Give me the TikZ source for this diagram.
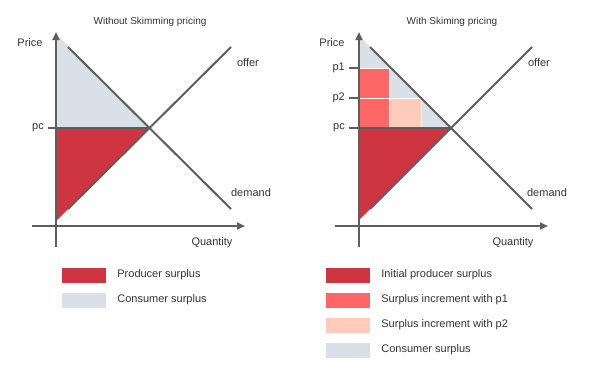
\documentclass[tikz,border=0pt]{standalone}
\usepackage{fontspec}
\setmainfont{Liberation Sans}
\usetikzlibrary{arrows.meta,positioning}
\definecolor{prodred}{HTML}{CF3441}
\definecolor{incone}{HTML}{FF6666}
\definecolor{inctwo}{HTML}{FFCCBC}
\definecolor{consgray}{HTML}{D9E0E7}
\definecolor{linegray}{HTML}{5E5E5E}
\definecolor{textgray}{HTML}{333333}

\begin{document}
\begin{tikzpicture}[x=1pt,y=-1pt,
    axis/.style={draw=linegray, line width=2pt, -{Triangle[length=8pt,width=7pt]}},
    curve/.style={draw=linegray, line width=2pt},
    tickmark/.style={draw=linegray, line width=2pt},
    lbl/.style={text=textgray, font=\fontsize{11}{13}\selectfont, inner sep=0pt},
    ttl/.style={text=textgray, font=\fontsize{10}{12}\selectfont, inner sep=0pt},
    key/.style={minimum width=44pt, minimum height=15pt, inner sep=0pt}]
\useasboundingbox (0,0) rectangle (600,380);

% Left chart: without skimming
\coordinate (a-eq) at (150,128);
\coordinate (a-pc) at (56,128);
\coordinate (a-pct) at (48,128);
\coordinate (a-dtop) at (56,34);
\coordinate (a-obot) at (56,221);
\fill[consgray] (a-dtop) -- (a-eq) -- (a-pc) -- cycle;
\fill[prodred] (a-pc) -- (a-eq) -- (a-obot) -- cycle;
\coordinate (a-ys) at (56,247);
\coordinate (a-ye) at (56,32);
\coordinate (a-xs) at (32,226);
\coordinate (a-xe) at (245,226);
\draw[axis] (a-ys) -- (a-ye);
\draw[axis] (a-xs) -- (a-xe);
\coordinate (a-d1) at (68,47);
\coordinate (a-d2) at (231,209);
\coordinate (a-o1) at (68,209);
\coordinate (a-o2) at (231,47);
\draw[curve] (a-d1) -- (a-d2);
\draw[curve] (a-o1) -- (a-o2);
\draw[curve] (a-pc) -- (a-eq);
\draw[tickmark] (a-pct) -- (a-pc);
\node[lbl, left=4pt of a-pct] (a-pclbl) {pc};
\node[lbl] (a-price) at (30,43) {Price};
\node[lbl] (a-qty) at (212,243) {Quantity};
\node[lbl] (a-offer) at (248,63) {offer};
\node[lbl] (a-demand) at (251,193) {demand};
\node[ttl] (a-title) at (150,22) {Without Skimming pricing};

% Right chart: with skimming
\coordinate (b-eq) at (451,128);
\coordinate (b-pc) at (359,128);
\coordinate (b-p2) at (359,98);
\coordinate (b-p1) at (359,68);
\coordinate (b-pct) at (349,128);
\coordinate (b-p2t) at (349,98);
\coordinate (b-p1t) at (349,68);
\coordinate (b-dtop) at (359,36);
\coordinate (b-obot) at (359,220);
\fill[consgray] (b-dtop) -- (b-eq) -- (b-pc) -- cycle;
\filldraw[fill=incone, draw=white, line width=0.6pt] (b-p1) rectangle (389,98);
\filldraw[fill=incone, draw=white, line width=0.6pt] (b-p2) rectangle (389,128);
\filldraw[fill=inctwo, draw=white, line width=0.6pt] (389,98) rectangle (421,128);
\fill[prodred] (b-pc) -- (b-eq) -- (b-obot) -- cycle;
\coordinate (b-ys) at (359,247);
\coordinate (b-ye) at (359,32);
\coordinate (b-xs) at (335,226);
\coordinate (b-xe) at (548,226);
\draw[axis] (b-ys) -- (b-ye);
\draw[axis] (b-xs) -- (b-xe);
\coordinate (b-d1) at (370,47);
\coordinate (b-d2) at (532,209);
\coordinate (b-o1) at (370,209);
\coordinate (b-o2) at (532,47);
\draw[curve] (b-d1) -- (b-d2);
\draw[curve] (b-o1) -- (b-o2);
\draw[curve] (b-pc) -- (b-eq);
\draw[tickmark] (b-pct) -- (b-pc);
\draw[tickmark] (b-p2t) -- (b-p2);
\draw[tickmark] (b-p1t) -- (b-p1);
\node[lbl, left=4pt of b-pct] (b-pclbl) {pc};
\node[lbl, left=4pt of b-p2t] (b-p2lbl) {p2};
\node[lbl, left=4pt of b-p1t] (b-p1lbl) {p1};
\node[lbl] (b-price) at (332,43) {Price};
\node[lbl] (b-qty) at (513,243) {Quantity};
\node[lbl] (b-offer) at (539,63) {offer};
\node[lbl] (b-demand) at (547,193) {demand};
\node[ttl] (b-title) at (452,22) {With Skiming pricing};

% Legends
\node[key, fill=prodred] (a-key1) at (84,275) {};
\node[key, fill=consgray] (a-key2) at (84,300) {};
\node[lbl, right=11pt of a-key1] {Producer surplus};
\node[lbl, right=11pt of a-key2] {Consumer surplus};
\node[key, fill=prodred] (b-key1) at (348,275) {};
\node[key, fill=incone] (b-key2) at (348,300) {};
\node[key, fill=inctwo] (b-key3) at (348,325) {};
\node[key, fill=consgray] (b-key4) at (348,350) {};
\node[lbl, right=11pt of b-key1] {Initial producer surplus};
\node[lbl, right=11pt of b-key2] {Surplus increment with p1};
\node[lbl, right=11pt of b-key3] {Surplus increment with p2};
\node[lbl, right=11pt of b-key4] {Consumer surplus};
\end{tikzpicture}
\end{document}
